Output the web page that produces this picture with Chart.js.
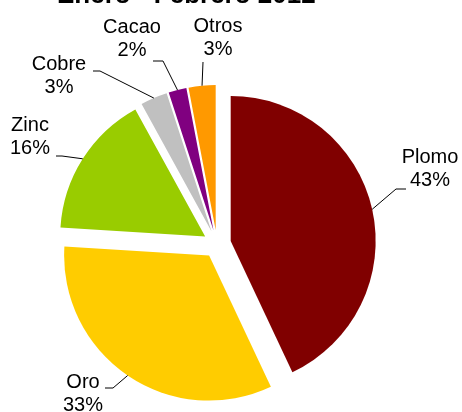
<!DOCTYPE html>
<html>
<head>
<meta charset="utf-8">
<script src="https://cdn.jsdelivr.net/npm/chart.js@4.4.1/dist/chart.umd.min.js"></script>
<style>
  html, body { margin: 0; padding: 0; background: #fff; }
  #wrap { width: 462px; height: 412px; }
</style>
</head>
<body>
<div id="wrap"><canvas id="myChart"></canvas></div>
<script>
const labels = ["Plomo", "Oro", "Zinc", "Cobre", "Cacao", "Otros"];
const shares = [43, 33, 16, 3, 2, 3];
const colors = ["#800000", "#FFCC00", "#99CC00", "#C0C0C0", "#800080", "#FF9900"];

// where each two-line label sits, and where its leader starts / bends
const labelSpots = [
  { tx: 430, ty: 169, sx: 406, sy: 189, ex: 396, ey: 189 },
  { tx: 83, ty: 394, sx: 105, sy: 388, ex: 113, ey: 388 },
  { tx: 30, ty: 137, sx: 56, sy: 156, ex: 62, ey: 156 },
  { tx: 59, ty: 76, sx: 93, sy: 71, ex: 100, ey: 71 },
  { tx: 132, ty: 39, sx: 153, sy: 61, ex: 163, ey: 61 },
  { tx: 218, ty: 38, sx: 203, sy: 62, ex: 203, ey: 62 },
];

const explode = 14;
const font = '20px "Liberation Sans", Arial, sans-serif';

// draw each slice pushed out along its middle angle, then the labels
const explodePlugin = {
  id: "explode",
  beforeDatasetsDraw(chart) {
    const ctx = chart.ctx;
    chart.getDatasetMeta(0).data.forEach((arc) => {
      const h = (arc.startAngle + arc.endAngle) / 2;
      ctx.save();
      ctx.translate(Math.cos(h) * explode, Math.sin(h) * explode);
      arc.draw(ctx);
      ctx.restore();
    });
    return false;
  },
  afterDraw(chart) {
    const ctx = chart.ctx;
    const total = shares.reduce((a, b) => a + b, 0);
    ctx.save();
    ctx.font = font;
    ctx.fillStyle = "#000";
    ctx.strokeStyle = "#000";
    ctx.lineWidth = 1;
    ctx.textAlign = "center";
    ctx.textBaseline = "middle";
    chart.getDatasetMeta(0).data.forEach((arc, i) => {
      const h = (arc.startAngle + arc.endAngle) / 2;
      const r = arc.outerRadius + explode;
      const px = arc.x + Math.cos(h) * r;
      const py = arc.y + Math.sin(h) * r;
      const s = labelSpots[i];
      ctx.beginPath();
      ctx.moveTo(s.sx, s.sy);
      ctx.lineTo(s.ex, s.ey);
      ctx.lineTo(px, py);
      ctx.stroke();
      const pct = Math.round((shares[i] / total) * 100) + "%";
      ctx.fillText(labels[i], s.tx, s.ty - 12);
      ctx.fillText(pct, s.tx, s.ty + 11);
    });
    ctx.restore();
  },
};

new Chart(document.getElementById("myChart"), {
  type: "pie",
  plugins: [explodePlugin],
  data: {
    labels: labels,
    datasets: [
      {
        data: shares,
        backgroundColor: colors,
        borderWidth: 0,
      },
    ],
  },
  options: {
    responsive: true,
    maintainAspectRatio: false,
    animation: false,
    radius: 145,
    layout: { padding: { left: 57, right: 85, top: 0, bottom: 0 } },
    plugins: {
      legend: { display: false },
      tooltip: { enabled: false },
      title: {
        display: true,
        text: "Enero - Febrero 2012",
        align: "start",
        color: "#000",
        font: { family: '"Liberation Sans", Arial, sans-serif', size: 26, weight: "bold", lineHeight: 1.2 },
        padding: { top: -19.6, bottom: 64.4 },
      },
    },
  },
});
</script>
</body>
</html>
